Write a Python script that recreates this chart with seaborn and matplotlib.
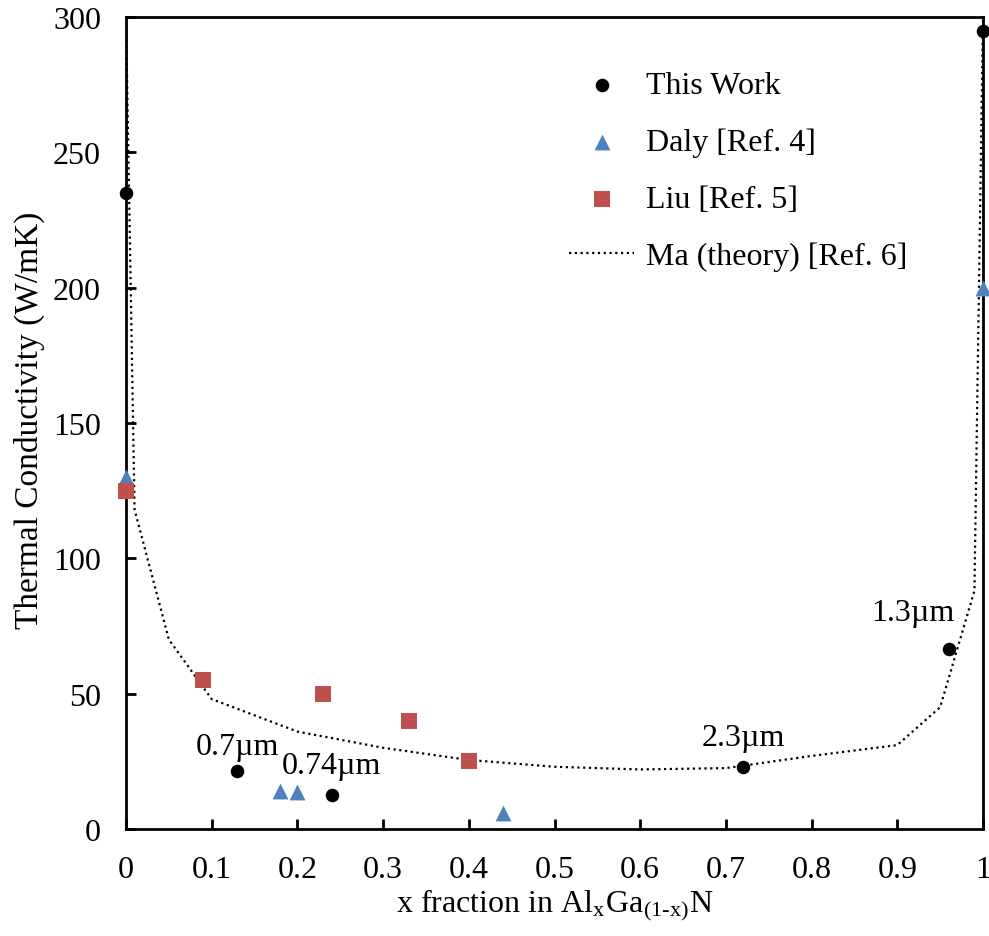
import matplotlib
matplotlib.use("Agg")
import matplotlib.pyplot as plt
import seaborn as sns
import pandas as pd

# ---- data ----
this_x = [0.0, 0.13, 0.24, 0.72, 0.96, 1.0]
this_y = [235, 21.5, 12.5, 23, 66.5, 295]
daly_x = [0.0, 0.18, 0.20, 0.44, 1.0]
daly_y = [130, 14, 13.5, 6, 200]
liu_x = [0.0, 0.09, 0.23, 0.33, 0.40]
liu_y = [125, 55, 50, 40, 25]
ma_x = [0.0, 0.01, 0.05, 0.1, 0.2, 0.3, 0.4, 0.5, 0.6, 0.7, 0.8, 0.9, 0.95, 0.99, 1.0]
ma_y = [300, 118, 70, 48, 36, 30, 25.5, 23, 22, 22.5, 27, 31, 45, 88, 300]
annot_text = ["0.7\u00b5m", "0.74\u00b5m", "2.3\u00b5m", "1.3\u00b5m"]
annot_x = [0.13, 0.24, 0.72, 0.96]
annot_y = [21.5, 12.5, 23, 66.5]
x_ticks = [0, 0.1, 0.2, 0.3, 0.4, 0.5, 0.6, 0.7, 0.8, 0.9, 1]
x_ticklabels = ["0", "0.1", "0.2", "0.3", "0.4", "0.5", "0.6", "0.7", "0.8", "0.9", "1"]
y_ticks = [0, 50, 100, 150, 200, 250, 300]

sns.set_style("white")
plt.rcParams['font.family'] = ['Liberation Serif', 'DejaVu Serif']
plt.rcParams['mathtext.fontset'] = 'stix'
for k in ['text.color', 'axes.labelcolor', 'xtick.color', 'ytick.color']:
    plt.rcParams[k] = 'black'

FS = 23
fig = plt.figure(figsize=(9.89, 9.37), dpi=100)
ax = fig.add_axes([126/989, 1-830/937, (983-126)/989, (830-18)/937])

df_ma = pd.DataFrame({"x": ma_x, "y": ma_y})
sns.lineplot(data=df_ma, x="x", y="y", sort=False, ax=ax, color="black",
             linestyle=(0, (1, 1.6)), linewidth=1.6, label="Ma (theory) [Ref. 6]", zorder=2)

sns.scatterplot(x=this_x, y=this_y, ax=ax, marker="o", s=95, color="black",
                linewidth=0, label="This Work", zorder=4, clip_on=False)
sns.scatterplot(x=daly_x, y=daly_y, ax=ax, marker="^", s=130, color="#4F81BD",
                linewidth=0, label="Daly [Ref. 4]", zorder=3, clip_on=False)
sns.scatterplot(x=liu_x, y=liu_y, ax=ax, marker="s", s=125, color="#C0504D",
                linewidth=0, label="Liu [Ref. 5]", zorder=3, clip_on=False)

offsets = [(0, 7), (0, 11), (0, 10.5), (-26, 16)]
for t, xv, yv, (dx, dy) in zip(annot_text, annot_x, annot_y, offsets):
    ax.annotate(t, (xv, yv), xytext=(dx, dy), textcoords="offset points",
                ha="center", va="bottom", fontsize=FS)

ax.set_xlim(0, 1)
ax.set_ylim(0, 300)
ax.set_xticks(x_ticks)
ax.set_xticklabels(x_ticklabels)
ax.set_yticks(y_ticks)
ax.tick_params(direction="in", length=7, width=2, labelsize=FS, bottom=True, left=True)
ax.tick_params(axis="x", pad=19)
ax.tick_params(axis="y", pad=18)
for sp in ax.spines.values():
    sp.set_visible(True)
    sp.set_color("black")
    sp.set_linewidth(2)
ax.set_xlabel("x fraction in Al$_\\mathregular{x}$Ga$_\\mathregular{(1\u2010x)}$N", fontsize=FS, labelpad=2)
ax.set_ylabel("Thermal Conductivity (W/mK)", fontsize=24, labelpad=5)
ax.yaxis.set_label_coords(-0.095, 0.505)

h, l = ax.get_legend_handles_labels()
order = [l.index("This Work"), l.index("Daly [Ref. 4]"), l.index("Liu [Ref. 5]"), l.index("Ma (theory) [Ref. 6]")]
ax.legend([h[i] for i in order], [l[i] for i in order], loc="upper left",
          bbox_to_anchor=(569/989, 1-72/937), bbox_transform=fig.transFigure,
          frameon=False, fontsize=FS, handlelength=2.05, handletextpad=0.35,
          labelspacing=0.86, borderpad=0, borderaxespad=0)

fig.savefig("out.png", dpi=100)
